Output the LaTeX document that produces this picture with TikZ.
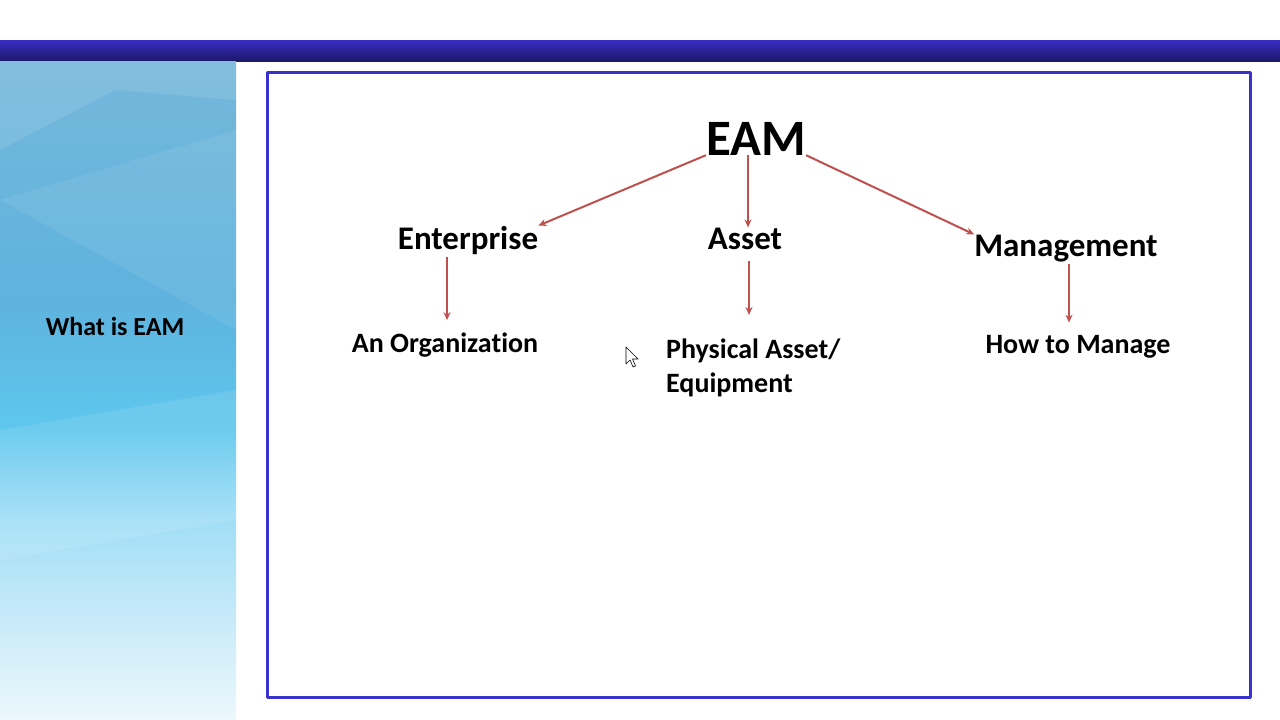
\documentclass[tikz,border=0pt]{standalone}
\usepackage{fontspec}
\setmainfont{Carlito}[Ligatures={NoCommon}]
\usetikzlibrary{arrows.meta}
\definecolor{barblue}{RGB}{55,45,195}
\definecolor{bardark}{RGB}{28,24,105}
\definecolor{frameblue}{RGB}{58,50,205}
\definecolor{arrred}{RGB}{192,80,77}
\pgfdeclareverticalshading{panelshade}{100bp}{
	rgb(0bp)=(0.925,0.973,0.988); rgb(25bp)=(0.925,0.973,0.988);
	rgb(30.3bp)=(0.83,0.933,0.98); rgb(40.2bp)=(0.63,0.87,0.965);
	rgb(47bp)=(0.37,0.78,0.93); rgb(56.9bp)=(0.37,0.70,0.87);
	rgb(75bp)=(0.46,0.72,0.855); rgb(100bp)=(0.46,0.72,0.855)}
\begin{document}
\begin{tikzpicture}[x=1pt,y=-1pt,>={Stealth[length=8pt,width=7pt]},line join=round,
	arr/.style={->,draw=arrred,line width=2pt},
	head/.style={inner sep=0pt,anchor=base,font=\bfseries\fontsize{33}{40}\selectfont},
	sub/.style={inner sep=0pt,anchor=base,font=\bfseries\fontsize{28}{34}\selectfont}]
	\useasboundingbox (0,0) rectangle (1280,720);
	\fill[white] (0,0) rectangle (1280,720);
	% slide background
	\shade[top color=barblue,bottom color=bardark] (0,40) rectangle (1280,61);
	\shade[shading=panelshade] (0,61) rectangle (236,720);
	\fill[white,opacity=0.10] (0,61)--(236,61)--(236,100)--(115,90)--(0,150)--cycle;
	\fill[white,opacity=0.07] (0,200)--(236,130)--(236,330)--cycle;
	\fill[white,opacity=0.10] (0,430)--(236,390)--(236,520)--(0,560)--cycle;
	\draw[frameblue,line width=3pt] (267,72) rectangle (1250,697);
	\node[inner sep=0pt,anchor=base,font=\bfseries\fontsize{26}{30}\selectfont] (title) at (115,335) {What is EAM};
	% tree
	\node[inner sep=0pt,anchor=base,font=\bfseries\fontsize{51}{60}\selectfont] (eam) at (756,155) {EAM};
	\node[head] (ent) at (468,249) {Enterprise};
	\node[head] (ast) at (745,249) {Asset};
	\node[head] (mgt) at (1066,256) {Management};
	\node[sub] (org) at (445,352) {An Organization};
	\node[inner sep=0pt,anchor=north west,align=left,font=\bfseries\fontsize{28}{34}\selectfont] (phy) at (666,339) {Physical Asset/\\Equipment};
	\node[sub] (how) at (1078,353) {How to Manage};
	\draw[arr] (eam.south west) -- (ent.north east);
	\draw[arr] ([xshift=-8pt]eam.south) -- ([xshift=-8pt]eam.south |- ast.north);
	\draw[arr] (eam.south east) -- (mgt.north west);
	\draw[arr,shorten <=3pt,shorten >=12pt] ([xshift=2pt]ent.south -| org.north) -- ([xshift=2pt]org.north);
	\draw[arr,shorten <=12pt,shorten >=24pt] ([xshift=4pt]ast.south) -- ([xshift=4pt]ast.south |- phy.north);
	\draw[arr,shorten <=2pt,shorten >=12pt] ([xshift=3pt]mgt.south) -- ([xshift=3pt]mgt.south |- how.north);
	% pointer
	\draw[fill=white,line width=0.6pt] (626,347)--(626,364)--(630,360)--(633,367)--(635.5,366)--(632.5,359)--(638,359)--cycle;
\end{tikzpicture}
\end{document}
